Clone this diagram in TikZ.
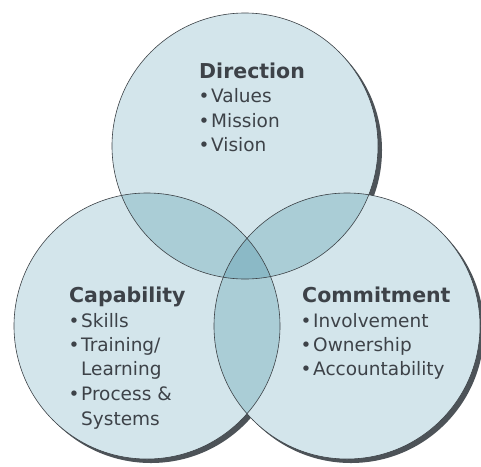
\documentclass[tikz,border=0pt]{standalone}
\usepackage{fontspec}
\setmainfont{DejaVu Sans}
\definecolor{ringfill}{HTML}{D3E5EB}
\definecolor{pairfill}{HTML}{AACDD6}
\definecolor{corefill}{HTML}{8BB9C6}
\definecolor{ringline}{HTML}{3C4247}
\definecolor{ringshadow}{HTML}{4D5358}
\definecolor{labeltext}{HTML}{3D4248}
\tikzset{
  heading/.style={anchor=base west, inner sep=0pt, font=\fontsize{20.5}{24}\selectfont\bfseries, text=labeltext},
  item/.style={anchor=base west, inner sep=0pt, font=\fontsize{18.5}{20}\selectfont, text=labeltext},
}
% bullet followed by a narrow gap
\newcommand{\blt}{\makebox[10pt][l]{\hspace*{-2.5pt}•}}
\newcommand{\bltgap}{\hspace*{10pt}}
\begin{document}
\begin{tikzpicture}[x=1pt,y=-1pt]
  \useasboundingbox (0,0) rectangle (481,466);
  \def\R{133}
  \coordinate (ctop) at (245,146);
  \coordinate (cleft) at (147,326);
  \coordinate (cright) at (347,326);
  % drop shadows
  \foreach \c in {ctop,cleft,cright}
    \fill[ringshadow] ([shift={(4,4)}]\c) circle (\R);
  % base discs
  \foreach \c in {ctop,cleft,cright}
    \fill[ringfill] (\c) circle (\R);
  % pairwise overlaps
  \begin{scope}
    \clip (ctop) circle (\R);
    \fill[pairfill] (cleft) circle (\R);
    \fill[pairfill] (cright) circle (\R);
  \end{scope}
  \begin{scope}
    \clip (cleft) circle (\R);
    \fill[pairfill] (cright) circle (\R);
  \end{scope}
  % triple overlap
  \begin{scope}
    \clip (ctop) circle (\R);
    \clip (cleft) circle (\R);
    \fill[corefill] (cright) circle (\R);
  \end{scope}
  % outlines
  \foreach \c in {ctop,cleft,cright}
    \draw[ringline, line width=0.6pt] (\c) circle (\R);

  % Direction
  \node[heading] (dirh) at (199,78) {Direction};
  \node[item] (dir1) at (201,102) {\blt Values};
  \node[item] (dir2) at (201,127) {\blt Mission};
  \node[item] (dir3) at (201,151.5) {\blt Vision};

  % Capability
  \node[heading] (caph) at (69,302) {Capability};
  \node[item] (cap1) at (71,327.5) {\blt Skills};
  \node[item] (cap2) at (71,351) {\blt Training/};
  \node[item] (cap3) at (71,375) {\bltgap Learning};
  \node[item] (cap4) at (71,400) {\blt Process \&};
  \node[item] (cap5) at (71,425) {\bltgap Systems};

  % Commitment
  \node[heading] (comh) at (302,302) {Commitment};
  \node[item] (com1) at (303,327) {\blt Involvement};
  \node[item] (com2) at (303,351.5) {\blt Ownership};
  \node[item] (com3) at (303,375.5) {\blt Accountability};
\end{tikzpicture}
\end{document}
